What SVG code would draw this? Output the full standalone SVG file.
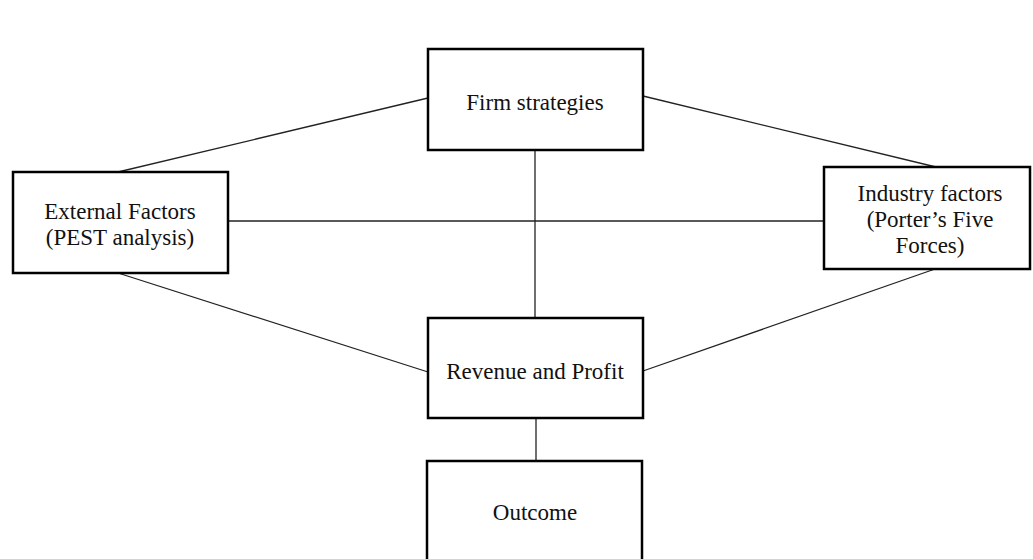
<svg xmlns="http://www.w3.org/2000/svg" width="1033" height="559" viewBox="0 0 1033 559">
<style>
.box{fill:#fff;stroke:#000;stroke-width:2.5}
.ln{stroke:#222;stroke-width:1.3;fill:none}
.t{font-family:"Liberation Serif","Times New Roman",serif;font-size:23px;fill:#111;text-anchor:middle}
</style>
<rect width="1033" height="559" fill="#fff"/>
<g id="connectors">
<line class="ln" x1="118" y1="172" x2="428" y2="98"/>
<line class="ln" x1="643" y1="96" x2="936" y2="167"/>
<line class="ln" x1="118" y1="273" x2="428" y2="372"/>
<line class="ln" x1="643" y1="371" x2="935" y2="269"/>
<line class="ln" x1="535" y1="150" x2="535" y2="318"/>
<line class="ln" x1="228" y1="221" x2="824" y2="221"/>
<line class="ln" x1="536" y1="418" x2="536" y2="461"/>
</g>
<g id="firm">
<rect class="box" x="428" y="49" width="215" height="101"/>
<text class="t" x="535" y="110">Firm strategies</text>
</g>
<g id="external">
<rect class="box" x="13" y="172" width="215" height="101"/>
<text class="t" x="120" y="219">External Factors</text>
<text class="t" x="120" y="245">(PEST analysis)</text>
</g>
<g id="industry">
<rect class="box" x="824" y="167" width="206" height="102"/>
<text class="t" x="930" y="201">Industry factors</text>
<text class="t" x="930" y="227">(Porter’s Five</text>
<text class="t" x="930" y="253">Forces)</text>
</g>
<g id="revenue">
<rect class="box" x="428" y="318" width="215" height="100"/>
<text class="t" x="535" y="379">Revenue and Profit</text>
</g>
<g id="outcome">
<rect class="box" x="427" y="461" width="215" height="110"/>
<text class="t" x="535" y="520">Outcome</text>
</g>
</svg>
